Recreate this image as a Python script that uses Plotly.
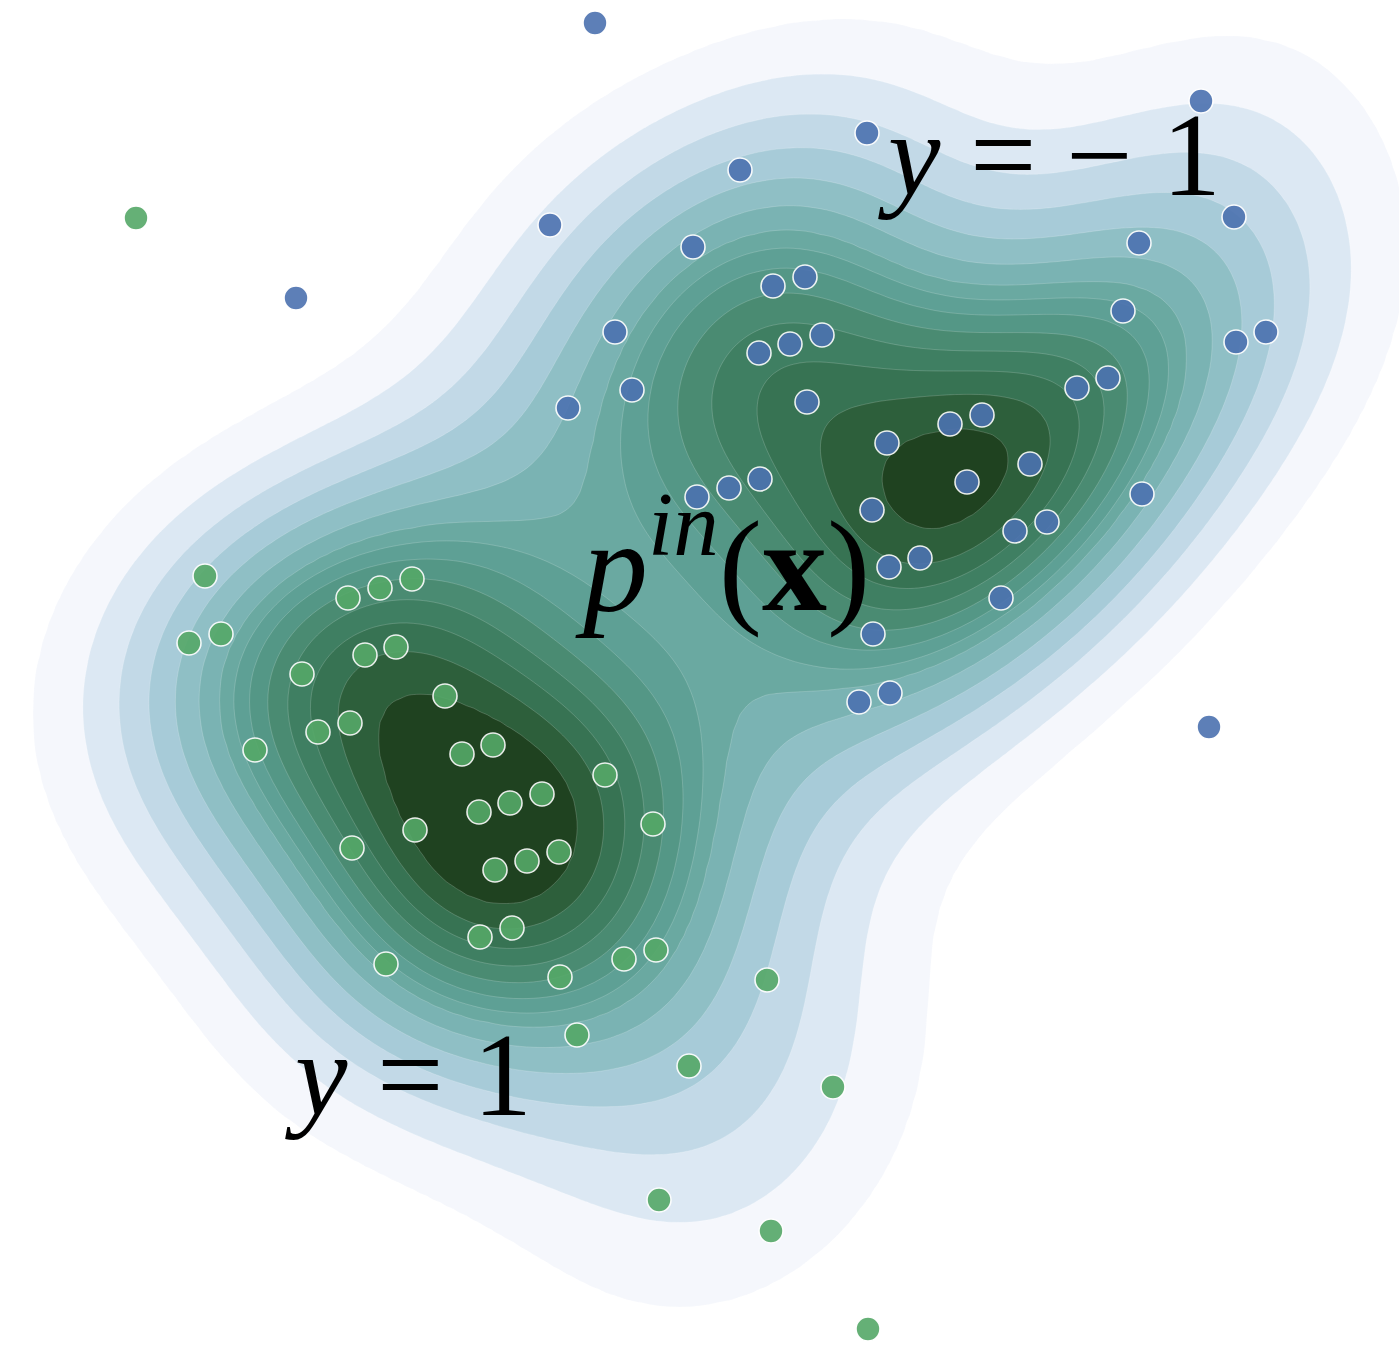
import numpy as np
import plotly.graph_objects as go

# ---- samples (x to the right, y measured downward) ----
green_x = [136, 205, 189, 221, 348, 380, 412, 365, 396, 302, 445, 318, 350, 255,
           462, 493, 605, 479, 510, 542, 415, 653, 352, 495, 527, 559, 480, 512,
           386, 560, 624, 656, 767, 577, 689, 833, 659, 771, 868]
green_y = [218, 576, 643, 634, 598, 588, 579, 655, 647, 674, 696, 732, 723, 750,
           754, 745, 775, 812, 803, 794, 830, 824, 848, 870, 861, 852, 937, 928,
           964, 977, 959, 950, 980, 1035, 1066, 1087, 1200, 1231, 1329]
# 0 = stray sample left out of the in-distribution density
green_in = [0, 1, 1, 1, 1, 1, 1, 1, 1, 1, 1, 1, 1, 1,
            1, 1, 1, 1, 1, 1, 1, 1, 1, 1, 1, 1, 1, 1,
            1, 1, 1, 1, 1, 1, 1, 1, 1, 1, 0]

blue_x = [595, 1201, 867, 740, 1234, 550, 1139, 693, 296, 773, 805, 1123, 615, 759,
          790, 822, 1236, 1266, 632, 568, 807, 1077, 1108, 887, 950, 982, 1030, 967,
          760, 729, 697, 872, 1142, 1015, 1047, 889, 920, 1001, 873, 859, 890, 1209]
blue_y = [23, 101, 133, 170, 217, 225, 243, 247, 298, 286, 277, 311, 332, 353,
          344, 335, 342, 332, 390, 408, 402, 388, 378, 443, 424, 415, 464, 482,
          479, 488, 497, 510, 494, 531, 522, 567, 558, 598, 634, 702, 693, 727]
blue_in = [0, 1, 1, 1, 1, 1, 1, 1, 0, 1, 1, 1, 1, 1,
           1, 1, 1, 1, 1, 1, 1, 1, 1, 1, 1, 1, 1, 1,
           1, 1, 1, 1, 1, 1, 1, 1, 1, 1, 1, 1, 1, 0]

# density band colours, lowest (outside) to highest
band_colors = ["#ffffff", "#f5f7fc", "#dce8f3", "#c2d9e7", "#a7cbd8", "#8fbfc5",
               "#7ab3b3", "#6aa9a1", "#5ea095", "#549786", "#4a8b72", "#3f7f62",
               "#377353", "#2d5f3b", "#1f4220"]

labels = {
    "neg": "<i>y</i> = − 1",
    "pos": "<i>y</i> = 1",
    "density": "<i>p</i><sup><i>in</i></sup>(<b>x</b>)",
}

W, H = 1399, 1349
n_levels = 15
thresh = 0.08

# ---- Gaussian KDE ----
all_x = np.r_[green_x, blue_x].astype(float)
all_y = np.r_[green_y, blue_y].astype(float)
keep = np.r_[green_in, blue_in].astype(bool)

# kernel covariance: Scott's rule on the full sample
full = np.vstack([all_x, all_y])
factor = full.shape[1] ** (-1.0 / 6.0)
cov = np.cov(full) * factor ** 2
inv = np.linalg.inv(cov)

# density: in-distribution samples only
pts = np.vstack([all_x[keep], all_y[keep]])

gx = np.linspace(-500, 1900, 361)
gy = np.linspace(-500, 1850, 353)
X, Y = np.meshgrid(gx, gy)
dens = np.zeros_like(X)
for px, py in pts.T:
    dx = X - px
    dy = Y - py
    dens += np.exp(-0.5 * (inv[0, 0] * dx * dx + 2 * inv[0, 1] * dx * dy + inv[1, 1] * dy * dy))

# iso-proportion levels: each level encloses a fixed share of the mass
vals = np.sort(dens.ravel())[::-1]
cum = np.cumsum(vals) / vals.sum()
props = np.linspace(thresh, 1, n_levels)
idx = np.clip(np.searchsorted(cum, 1 - props), 0, len(vals) - 1)
levels = vals[idx]

# map density to a band index that is linear between consecutive levels
z = np.interp(dens, np.r_[0.0, levels], np.arange(-1, n_levels))

nc = n_levels - 1
colorscale = [[j / nc, c] for j, c in enumerate(band_colors)]

fig = go.Figure()
fig.add_trace(go.Contour(
    x=gx, y=gy, z=z,
    contours=dict(start=0, end=n_levels - 2, size=1, coloring="fill"),
    colorscale=colorscale,
    showscale=False,
    line=dict(color="rgba(255,255,255,0.3)", width=0.6, smoothing=1),
    hoverinfo="skip",
))

for xs, ys, col in [(green_x, green_y, "#55a868"), (blue_x, blue_y, "#4c72b0")]:
    fig.add_trace(go.Scatter(
        x=xs, y=ys, mode="markers",
        marker=dict(size=24, color=col, opacity=0.9,
                    line=dict(color="white", width=1.6)),
        hoverinfo="skip", showlegend=False,
    ))

font = dict(family="Liberation Serif, Times New Roman, serif", size=118, color="black")
fig.add_annotation(x=1049, y=155, text=labels["neg"], showarrow=False,
                   xanchor="center", yanchor="middle", font=font)
fig.add_annotation(x=408, y=1075, text=labels["pos"], showarrow=False,
                   xanchor="center", yanchor="middle", font=font)
fig.add_annotation(x=722, y=556, text=labels["density"], showarrow=False,
                   xanchor="center", yanchor="middle", font=dict(font, size=130))

fig.update_layout(
    width=W, height=H,
    margin=dict(l=0, r=0, t=0, b=0),
    paper_bgcolor="white", plot_bgcolor="white",
    showlegend=False,
    xaxis=dict(range=[0, W], visible=False, fixedrange=True),
    yaxis=dict(range=[H, 0], visible=False, fixedrange=True),
)

fig.write_html("out.html")
